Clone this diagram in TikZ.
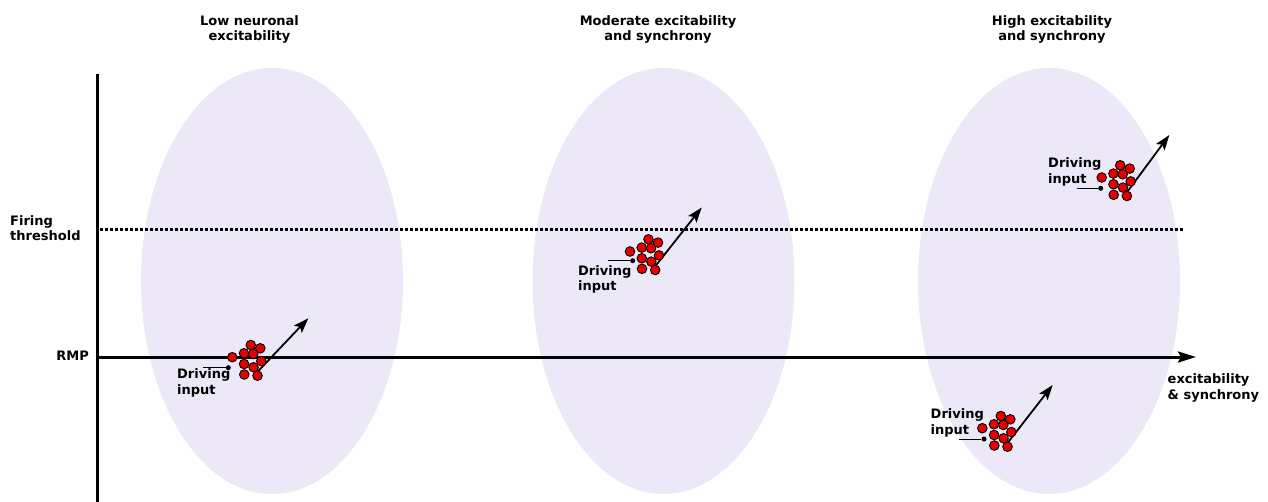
\documentclass[tikz,border=0pt]{standalone}
\usepackage{fontspec}
\setmainfont{DejaVu Sans}
\usetikzlibrary{arrows.meta}

\definecolor{cloudfill}{RGB}{236,232,247}
\definecolor{cellred}{RGB}{232,0,0}

\tikzset{
  axis/.style={line width=3pt},
  threshold/.style={line width=3pt, dash pattern=on 2.6pt off 2.4pt},
  cloud/.style={fill=cloudfill},
  lbl/.style={inner sep=0pt, font=\bfseries\fontsize{13}{15.5}\selectfont, align=left},
  neuron/.style={circle, draw=black, line width=0.9pt, fill=cellred, minimum size=9.6pt, inner sep=0pt},
  inputdot/.style={circle, fill=black, minimum size=5pt, inner sep=0pt},
  inputline/.style={line width=1pt},
  drive/.style={line width=1.8pt, -{Stealth[length=15pt, width=10.5pt, inset=3pt]}}
}

% ten cells around a centre coordinate
\newcommand{\neurons}[1]{%
  \foreach \dx/\dy [count=\k] in {-21/3.2, -9.3/-0.7, -2.5/-9, 7/-5.7, 0/0,
                                   -9.2/10, 8/7.1, 0.3/13.3, -9/20.5, 4.2/21.7}
    \node[neuron] (#1-\k) at ([shift={(\dx,\dy)}]#1) {};
}

\begin{document}
\begin{tikzpicture}[x=1pt, y=-1pt]
  \useasboundingbox (0,0) rectangle (1268,501);

  % Ellipses
  \fill[cloud] (272,281) ellipse [x radius=131pt, y radius=213pt];
  \fill[cloud] (663.5,281) ellipse [x radius=131pt, y radius=213pt];
  \fill[cloud] (1049,281) ellipse [x radius=131pt, y radius=213pt];

  % Titles
  \node[lbl, align=center] (low) at (249.5,29.5) {Low neuronal\\excitability};
  \node[lbl, align=center] (mod) at (658,29.5) {Moderate excitability\\and synchrony};
  \node[lbl, align=center] (high) at (1052,29.5) {High excitability\\and synchrony};

  % Axes
  \coordinate (ytop) at (97,74);
  \coordinate (ybot) at (97,502);
  \coordinate (origin) at (97,357);
  \coordinate (xend) at (1196,357);
  \coordinate (th0) at (100,229.5);
  \coordinate (th1) at (1183,229.5);
  \draw[threshold] (th0) -- (th1);
  \draw[axis] (ybot) -- (ytop);
  \draw[axis, -{Stealth[length=18pt, width=11pt, inset=3pt]}] (origin) -- (xend);

  \node[lbl, anchor=west] (fire) at (10,228) {Firing\\threshold};
  \node[lbl, anchor=east] (rmp) at (89,355.5) {RMP};
  \node[lbl, anchor=west] (xlbl) at (1167.5,388) {excitability\\\& synchrony};

  % Cell groups
  \coordinate (c1) at (253.3,354);
  \coordinate (c2) at (651,248.3);
  \coordinate (c3) at (1122.7,174.3);
  \coordinate (c4) at (1003.3,425);

  \coordinate (c1tip) at (308.3,318.3);
  \coordinate (c2tip) at (701.7,207.5);
  \coordinate (c3tip) at (1169.3,135);
  \coordinate (c4tip) at (1052.7,385);

  \foreach \c in {c1,c2,c3,c4} {
    \draw[drive] ([shift={(5,17)}]\c) -- (\c tip);
    \neurons{\c}
  }

  % Driving inputs
  \node[inputdot] (c1dot) at (228.3,367.7) {};
  \node[inputdot] (c2dot) at (632.7,260.7) {};
  \node[inputdot] (c3dot) at (1100.7,188.3) {};
  \node[inputdot] (c4dot) at (984,439) {};
  \coordinate (c1in) at (203.3,367.7);
  \coordinate (c2in) at (608.3,260.7);
  \coordinate (c3in) at (1076.7,188.3);
  \coordinate (c4in) at (959.3,439);
  \draw[inputline] (c1in) -- (c1dot);
  \draw[inputline] (c2in) -- (c2dot);
  \draw[inputline] (c3in) -- (c3dot);
  \draw[inputline] (c4in) -- (c4dot);

  \node[lbl, anchor=west] (d1) at (177,383) {Driving\\input};
  \node[lbl, anchor=west] (d2) at (578,279.5) {Driving\\input};
  \node[lbl, anchor=west] (d3) at (1048,172) {Driving\\input};
  \node[lbl, anchor=west] (d4) at (930.5,423) {Driving\\input};
\end{tikzpicture}
\end{document}
